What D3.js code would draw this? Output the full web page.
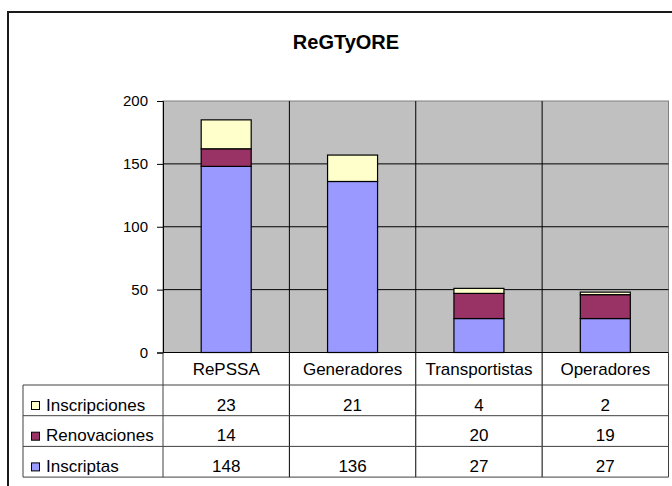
<!DOCTYPE html>
<html>
<head>
<meta charset="utf-8">
<script src="https://cdn.jsdelivr.net/npm/d3@7"></script>
<style>
  body { margin: 0; background: #fff; }
  svg { display: block; font-family: "Liberation Sans", Arial, sans-serif; }
</style>
</head>
<body>
<script>
// chart data
const categories = ['RePSSA', 'Generadores', 'Transportistas', 'Operadores'];
const inscriptas = [148, 136, 27, 27];
const renovaciones = [14, null, 20, 19];
const inscripciones = [23, 21, 4, 2];
const yTicks = [0, 50, 100, 150, 200];
const title = 'ReGTyORE';

const series = [
    { name: 'Inscriptas', values: inscriptas, color: '#9999FF' },
    { name: 'Renovaciones', values: renovaciones, color: '#993366' },
    { name: 'Inscripciones', values: inscripciones, color: '#FFFFCC' }
];

const width = 672, height = 486;
const plot = { left: 163, right: 668.5, top: 101, bottom: 352.5 };
const tableLeft = 23, tableTop = 385, rowH = 30.7;

const svg = d3.select('body').append('svg')
    .attr('width', width)
    .attr('height', height);

// outer frame (runs off the right and bottom edges)
svg.append('rect')
    .attr('x', 8).attr('y', 12)
    .attr('width', 700).attr('height', 520)
    .attr('fill', '#fff')
    .attr('stroke', '#1a1a1a')
    .attr('stroke-width', 2);

svg.append('text')
    .attr('x', 346).attr('y', 49)
    .attr('text-anchor', 'middle')
    .style('font-size', '20px')
    .style('font-weight', 'bold')
    .text(title);

const x = d3.scaleBand()
    .domain(categories)
    .range([plot.left, plot.right]);

const y = d3.scaleLinear()
    .domain([0, 200])
    .range([plot.bottom, plot.top]);

// plot background
svg.append('rect')
    .attr('x', plot.left).attr('y', plot.top)
    .attr('width', plot.right - plot.left)
    .attr('height', plot.bottom - plot.top)
    .attr('fill', '#C0C0C0')
    .attr('stroke', '#808080')
    .attr('stroke-width', 1);

// horizontal grid lines
svg.append('g')
    .selectAll('line')
    .data(yTicks.filter(d => d > 0 && d < 200))
    .enter()
    .append('line')
    .attr('x1', plot.left).attr('x2', plot.right)
    .attr('y1', d => y(d)).attr('y2', d => y(d))
    .attr('stroke', '#000')
    .attr('stroke-width', 1);

// stacked bars
const rows = categories.map((c, i) => {
    const r = { cat: c };
    series.forEach(s => { r[s.name] = s.values[i] || 0; });
    return r;
});
const stacked = d3.stack().keys(series.map(s => s.name))(rows);

const barW = 50;
stacked.forEach((layer, si) => {
    svg.append('g')
        .selectAll('rect')
        .data(layer.filter((d, i) => series[si].values[i] !== null))
        .enter()
        .append('rect')
        .attr('x', d => x(d.data.cat) + x.bandwidth() / 2 - barW / 2)
        .attr('y', d => y(d[1]))
        .attr('width', barW)
        .attr('height', d => y(d[0]) - y(d[1]))
        .attr('fill', series[si].color)
        .attr('stroke', '#000')
        .attr('stroke-width', 1.2);
});

// y axis
const yAxis = svg.append('g')
    .attr('transform', `translate(${plot.left},0)`)
    .call(d3.axisLeft(y).tickValues(yTicks).tickSize(6).tickPadding(9));
yAxis.select('.domain').attr('stroke', '#000');
yAxis.selectAll('.tick line').attr('stroke', '#000');
yAxis.selectAll('text')
    .style('font-size', '15px')
    .style('font-family', '"Liberation Sans", Arial, sans-serif')
    .attr('fill', '#000');

// zero line
svg.append('line')
    .attr('x1', plot.left).attr('x2', plot.right)
    .attr('y1', y(0)).attr('y2', y(0))
    .attr('stroke', '#000').attr('stroke-width', 1.2);

// data table
const tableBottom = tableTop + rowH * series.length;
const table = svg.append('g');

// category separators running from plot top down through the table
const seps = categories.map(c => x(c)).concat([plot.right]);
table.selectAll('.sep')
    .data(seps)
    .enter()
    .append('line')
    .attr('x1', d => d).attr('x2', d => d)
    .attr('y1', (d, i) => (i === 0 || i === seps.length - 1) ? y(0) : plot.top)
    .attr('y2', tableBottom)
    .attr('stroke', (d, i) => (i === 0 || i === seps.length - 1) ? '#404040' : '#000')
    .attr('stroke-width', 1);

// left label column border
table.append('line')
    .attr('x1', tableLeft).attr('x2', tableLeft)
    .attr('y1', tableTop).attr('y2', tableBottom)
    .attr('stroke', '#404040');

// row lines
table.selectAll('.rowline')
    .data(d3.range(series.length + 1))
    .enter()
    .append('line')
    .attr('x1', tableLeft).attr('x2', plot.right)
    .attr('y1', d => tableTop + d * rowH)
    .attr('y2', d => tableTop + d * rowH)
    .attr('stroke', '#404040');

// header labels
table.selectAll('.head')
    .data(categories)
    .enter()
    .append('text')
    .attr('x', d => x(d) + x.bandwidth() / 2)
    .attr('y', 375)
    .attr('text-anchor', 'middle')
    .style('font-size', '17px')
    .text(d => d);

// rows top-to-bottom: Inscripciones, Renovaciones, Inscriptas
const tableSeries = series.slice().reverse();
tableSeries.forEach((s, ri) => {
    const top = tableTop + ri * rowH;
    table.append('rect')
        .attr('x', 31.5).attr('y', top + 16.5)
        .attr('width', 8).attr('height', 8)
        .attr('fill', s.color)
        .attr('stroke', '#000');
    table.append('text')
        .attr('x', 46).attr('y', top + 25.5)
        .style('font-size', '17px')
        .text(s.name);
    table.selectAll(null)
        .data(s.values.map((v, i) => ({ v, c: categories[i] })).filter(d => d.v !== null))
        .enter()
        .append('text')
        .attr('x', d => x(d.c) + x.bandwidth() / 2)
        .attr('y', top + 25.5)
        .attr('text-anchor', 'middle')
        .style('font-size', '17px')
        .text(d => d.v);
});
</script>
</body>
</html>
